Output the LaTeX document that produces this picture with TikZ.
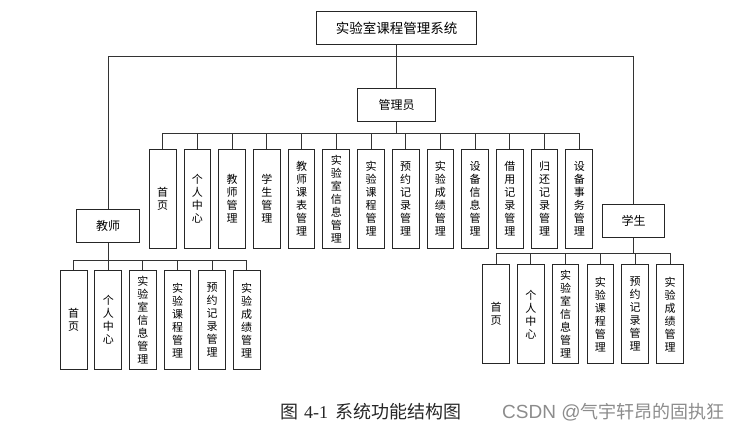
\documentclass[tikz,border=0pt]{standalone}
\usepackage{fontspec}
\newfontfamily\cjk{Noto Sans CJK SC}
\newfontfamily\lsans{Liberation Sans}
\newfontfamily\lserif{Liberation Serif}
\begin{document}
\begin{tikzpicture}[x=1pt,y=-1pt,
  conn/.style={draw=black!80, line width=0.9pt},
  box/.style={draw=black!85, line width=1pt, fill=white, inner sep=0pt, align=center},
  headbox/.style={box, minimum width=62.5pt, minimum height=33.4pt, font=\cjk\fontsize{12}{14}\selectfont},
  leaf/.style={box, anchor=north, minimum width=26.7pt, minimum height=99pt, font=\cjk\fontsize{11}{13}\selectfont}
]
\useasboundingbox (0,0) rectangle (746,442);

% top levels
\node[box, minimum width=160pt, minimum height=32.6pt, font=\cjk\fontsize{13.5}{15}\selectfont] (top) at (396.7,28) {实验室课程管理系统};
\node[box, minimum width=78pt, minimum height=33.4pt, font=\cjk\fontsize{12}{14}\selectfont] (admin) at (396.7,105) {管理员};
\node[headbox] (teacher) at (108,226) {教师};
\node[headbox] (student) at (633.5,220.7) {学生};

\coordinate (hub) at (396.7,56.7);
\coordinate (abar) at (0,133.5);
\coordinate (tbar) at (0,260);
\coordinate (sbar) at (0,253.7);

\draw[conn] (top.south) -- (admin.north);
\draw[conn] (teacher.north) |- (hub) -| (student.north);

% admin children
\foreach \t [count=\i from 0] in {首\\页, 个\\人\\中\\心, 教\\师\\管\\理, 学\\生\\管\\理, 教\\师\\课\\表\\管\\理, 实\\验\\室\\信\\息\\管\\理, 实\\验\\课\\程\\管\\理, 预\\约\\记\\录\\管\\理, 实\\验\\成\\绩\\管\\理, 设\\备\\信\\息\\管\\理, 借\\用\\记\\录\\管\\理, 归\\还\\记\\录\\管\\理, 设\\备\\事\\务\\管\\理}
  \node[leaf] (a\i) at ({162.7+34.72*\i},149) {\t};
\draw[conn] (admin.south) -- (admin.south |- abar);
\draw[conn] (a0.north) |- (a12.north |- abar) -- (a12.north);
\foreach \i in {1,...,11}
  \draw[conn] (a\i.north |- abar) -- (a\i.north);

% teacher children
\foreach \t [count=\i from 0] in {首\\页, 个\\人\\中\\心, 实\\验\\室\\信\\息\\管\\理, 实\\验\\课\\程\\管\\理, 预\\约\\记\\录\\管\\理, 实\\验\\成\\绩\\管\\理}
  \node[leaf, minimum height=99.3pt] (t\i) at ({73.7+34.6*\i},270) {\t};
\draw[conn] (teacher.south) -- (teacher.south |- tbar);
\draw[conn] (t0.north) |- (t5.north |- tbar) -- (t5.north);
\foreach \i in {1,...,4}
  \draw[conn] (t\i.north |- tbar) -- (t\i.north);

% student children
\foreach \t [count=\i from 0] in {首\\页, 个\\人\\中\\心, 实\\验\\室\\信\\息\\管\\理, 实\\验\\课\\程\\管\\理, 预\\约\\记\\录\\管\\理, 实\\验\\成\\绩\\管\\理}
  \node[leaf] (s\i) at ({496+34.8*\i},264.3) {\t};
\draw[conn] (student.south) -- (student.south |- sbar);
\draw[conn] (s0.north) |- (s5.north |- sbar) -- (s5.north);
\foreach \i in {1,...,4}
  \draw[conn] (s\i.north |- sbar) -- (s\i.north);

% caption and watermark
\node[anchor=west, inner sep=0pt, text=black!85, font=\cjk\fontsize{18}{20}\selectfont] (cap) at (280,411.5) {图\hspace{6pt}{\lserif 4-1}\hspace{7pt}系统功能结构图};
\node[anchor=west, inner sep=0pt, text=black!45, font=\cjk\fontsize{18}{20}\selectfont] (wm) at (502,412) {{\lsans\fontsize{19}{20}\selectfont CSDN @}气宇轩昂的固执狂};
\end{tikzpicture}
\end{document}
